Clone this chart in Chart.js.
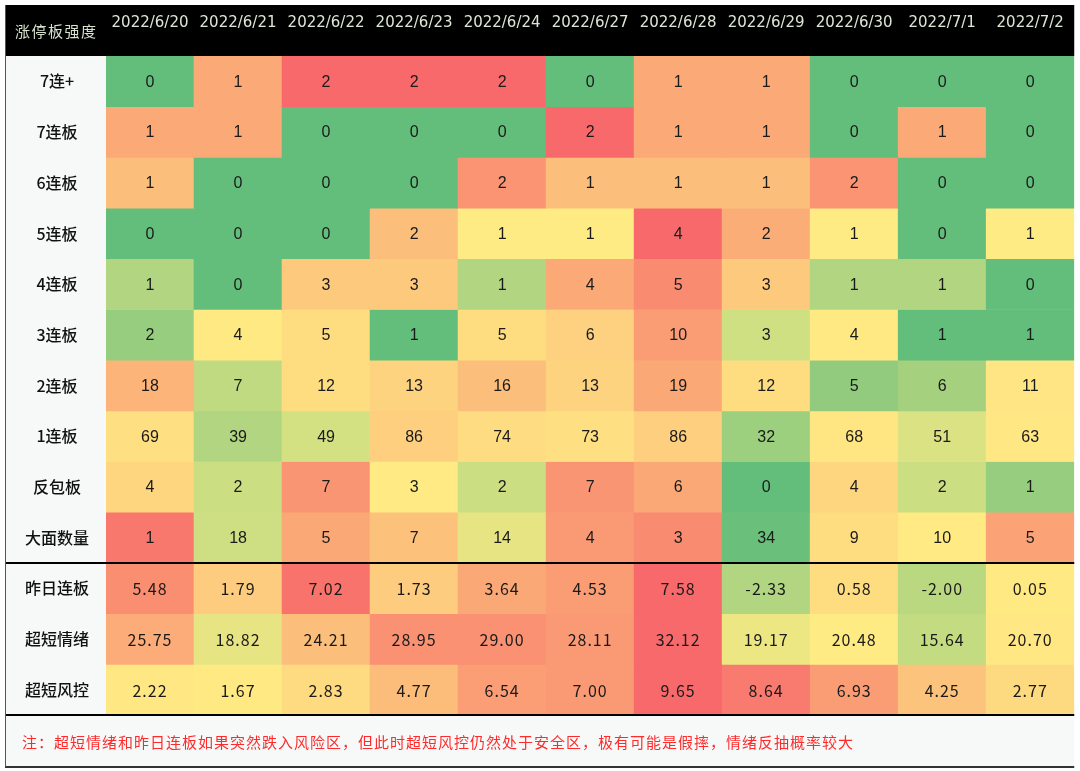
<!DOCTYPE html>
<html>
<head>
<meta charset="utf-8">
<title>涨停板强度</title>
<script src="https://cdn.jsdelivr.net/npm/chart.js@4/dist/chart.umd.min.js"></script>
<style>
  html, body { margin: 0; padding: 0; background: #ffffff; }
  #wrap { width: 1080px; height: 771px; position: relative; }
</style>
</head>
<body>
<div id="wrap"><canvas id="heatTable"></canvas></div>
<script>
'use strict';

var dates = ['2022/6/20', '2022/6/21', '2022/6/22', '2022/6/23', '2022/6/24', '2022/6/27',
  '2022/6/28', '2022/6/29', '2022/6/30', '2022/7/1', '2022/7/2'];

var rowLabels = ['7连+', '7连板', '6连板', '5连板', '4连板', '3连板', '2连板', '1连板',
  '反包板', '大面数量', '昨日连板', '超短情绪', '超短风控'];

var lian7Plus = [0, 1, 2, 2, 2, 0, 1, 1, 0, 0, 0];
var lian7 = [1, 1, 0, 0, 0, 2, 1, 1, 0, 1, 0];
var lian6 = [1, 0, 0, 0, 2, 1, 1, 1, 2, 0, 0];
var lian5 = [0, 0, 0, 2, 1, 1, 4, 2, 1, 0, 1];
var lian4 = [1, 0, 3, 3, 1, 4, 5, 3, 1, 1, 0];
var lian3 = [2, 4, 5, 1, 5, 6, 10, 3, 4, 1, 1];
var lian2 = [18, 7, 12, 13, 16, 13, 19, 12, 5, 6, 11];
var lian1 = [69, 39, 49, 86, 74, 73, 86, 32, 68, 51, 63];
var fanBao = [4, 2, 7, 3, 2, 7, 6, 0, 4, 2, 1];
var daMian = [1, 18, 5, 7, 14, 4, 3, 34, 9, 10, 5];
var zuoRiLianBan = [5.48, 1.79, 7.02, 1.73, 3.64, 4.53, 7.58, -2.33, 0.58, -2.00, 0.05];
var chaoDuanQingXu = [25.75, 18.82, 24.21, 28.95, 29.00, 28.11, 32.12, 19.17, 20.48, 15.64, 20.70];
var chaoDuanFengKong = [2.22, 1.67, 2.83, 4.77, 6.54, 7.00, 9.65, 8.64, 6.93, 4.25, 2.77];

var rowValues = [lian7Plus, lian7, lian6, lian5, lian4, lian3, lian2, lian1,
  fanBao, daMian, zuoRiLianBan, chaoDuanQingXu, chaoDuanFengKong];
var decimalRows = 3; // last rows show two decimals

var noteText = '注：超短情绪和昨日连板如果突然跌入风险区，但此时超短风控仍然处于安全区，极有可能是假摔，情绪反抽概率较大';

// cell fills
var G = '#63be7b', Y = '#ffeb84', R = '#f8696b', O = '#fbaa77';
var cellColors = [
  [G, O, R, R, R, G, O, O, G, G, G],
  [O, O, G, G, G, R, O, O, G, O, G],
  ['#fcbf7b', G, G, G, '#fa9473', '#fcbf7b', '#fcbf7b', '#fcbf7b', '#fa9473', G, G],
  [G, G, G, '#fcbf7b', Y, Y, R, '#fbad78', Y, G, Y],
  ['#b1d580', G, '#fdc97d', '#fdc97d', '#b1d580', '#fbaa77', '#f98b71', '#fdc97d', '#b1d580', '#b1d580', G],
  ['#97cd7e', '#ffe983', '#fedc80', G, '#fedc80', '#fdd17f', '#fa9d75', '#cfe082', '#ffe983', G, G],
  ['#fcb479', '#bfda81', '#fedd81', '#fdd37f', '#fcbe7b', '#fdd37f', '#fba877', '#fedd81', '#92cb7e', '#a5d17f', '#ffe583'],
  ['#fee082', '#b1d580', '#d3e182', '#fdcf7e', '#fedc81', '#fedf81', '#fdcf7e', '#9ccf7e', '#ffe683', '#dbe283', '#ffe884'],
  ['#fed680', '#cbde81', '#f99573', '#ffea84', '#cbde81', '#f99573', '#fba877', G, '#fed680', '#cbde81', '#97cd7e'],
  ['#f8786d', '#cddf82', '#fba877', '#fcc27c', '#e7e583', '#fa9a74', '#f98b70', '#6ac07b', '#fedd81', '#ffea84', '#fba276'],
  ['#f98e71', '#fdcc7e', '#f8736c', '#fdcc7e', '#fba877', '#fa9c74', R, '#b1d580', '#fedd81', '#bad880', '#ffe983'],
  ['#fbac78', '#e6e483', '#fcbf7b', '#f99172', '#f99172', '#fa9a74', R, '#ece683', Y, '#c3db81', '#ffe784'],
  ['#ffe784', '#fee983', '#fedb80', '#fcbd7b', '#fb9e75', '#fa9a74', R, '#f97a6e', '#fa9c74', '#fcc37c', '#fdd980']
];

var CJK = '"Noto Sans CJK SC", "Noto Sans", sans-serif';

var tableFrame = {
  id: 'tableFrame',
  beforeDraw: function (chart) {
    var ctx = chart.ctx;
    var area = chart.chartArea;
    ctx.save();
    ctx.fillStyle = '#ffffff';
    ctx.fillRect(0, 0, chart.width, chart.height);
    // header band
    ctx.fillStyle = '#000000';
    ctx.fillRect(5, 5, area.right - 5, area.top - 5);
    // label column and note row
    ctx.fillStyle = '#f7f9f9';
    ctx.fillRect(5, area.top, area.left - 5, area.bottom - area.top);
    ctx.fillRect(5, area.bottom, area.right - 5, 52);
    ctx.restore();
  },
  afterDraw: function (chart) {
    var ctx = chart.ctx;
    var area = chart.chartArea;
    var yScale = chart.scales.y;
    ctx.save();
    // corner title
    ctx.fillStyle = '#d7e2cf';
    ctx.font = '15px ' + CJK;
    ctx.textAlign = 'left';
    ctx.textBaseline = 'middle';
    ctx.letterSpacing = '1.5px';
    ctx.fillText('涨停板强度', 15, 31);
    // note
    ctx.fillStyle = '#ff2b2b';
    ctx.letterSpacing = '1px';
    ctx.fillText(noteText, 22, area.bottom + 27);
    ctx.letterSpacing = '0px';
    // rules
    ctx.strokeStyle = '#000000';
    ctx.lineWidth = 2;
    var split = Math.round(yScale.getPixelForValue(rowLabels.length - decimalRows));
    ctx.beginPath();
    ctx.moveTo(5, split);
    ctx.lineTo(area.right, split);
    ctx.moveTo(5, Math.round(area.bottom));
    ctx.lineTo(area.right, Math.round(area.bottom));
    ctx.stroke();
    ctx.strokeStyle = '#333333';
    ctx.beginPath();
    ctx.moveTo(5, area.bottom + 52);
    ctx.lineTo(area.right, area.bottom + 52);
    ctx.stroke();
    ctx.strokeStyle = '#555555';
    ctx.lineWidth = 1;
    ctx.beginPath();
    ctx.moveTo(5.5, 5);
    ctx.lineTo(5.5, area.bottom + 52);
    ctx.stroke();
    ctx.restore();
  }
};

var cellLabels = {
  id: 'cellLabels',
  afterDatasetsDraw: function (chart) {
    var ctx = chart.ctx;
    ctx.save();
    ctx.textAlign = 'center';
    ctx.textBaseline = 'middle';
    ctx.fillStyle = '#1a1a1a';
    rowValues.forEach(function (values, r) {
      var decimal = r >= rowLabels.length - decimalRows;
      ctx.font = decimal ? '16px ' + CJK : '16px "Liberation Sans", Arial, sans-serif';
      ctx.letterSpacing = decimal ? '1px' : '0px';
      chart.getDatasetMeta(r).data.forEach(function (bar, c) {
        var text = decimal ? values[c].toFixed(2) : String(values[c]);
        ctx.fillText(text, bar.x, (bar.y + bar.base) / 2 + 1);
      });
    });
    ctx.restore();
  }
};

var datasets = rowValues.map(function (values, r) {
  return {
    label: rowLabels[r],
    data: values.map(function () { return [r, r + 1]; }),
    backgroundColor: cellColors[r],
    borderWidth: 0,
    barPercentage: 1,
    categoryPercentage: 1,
    grouped: false
  };
});

new Chart(document.getElementById('heatTable'), {
  type: 'bar',
  data: { labels: dates, datasets: datasets },
  options: {
    responsive: true,
    maintainAspectRatio: false,
    animation: false,
    layout: { padding: { left: 5, top: 5, right: 2, bottom: 56 } },
    plugins: {
      legend: { display: false },
      tooltip: { enabled: false }
    },
    scales: {
      x: {
        type: 'category',
        position: 'top',
        offset: true,
        grid: { display: false },
        border: { display: false },
        ticks: {
          color: '#dde6d6',
          font: { family: '"DejaVu Sans", sans-serif', size: 15 },
          padding: 16,
          maxRotation: 0,
          autoSkip: false
        },
        afterFit: function (scale) { scale.height = 51; }
      },
      y: {
        type: 'linear',
        reverse: true,
        min: 0,
        max: rowLabels.length,
        grid: { display: false },
        border: { display: false },
        afterBuildTicks: function (scale) {
          scale.ticks = rowLabels.map(function (label, i) { return { value: i + 0.5 }; });
        },
        ticks: {
          color: '#111111',
          crossAlign: 'center',
          padding: 9,
          font: { family: CJK, size: 16, weight: '500' },
          callback: function (value, index) { return rowLabels[index]; }
        },
        afterFit: function (scale) { scale.width = 101; }
      }
    }
  },
  plugins: [tableFrame, cellLabels]
});
</script>
</body>
</html>
